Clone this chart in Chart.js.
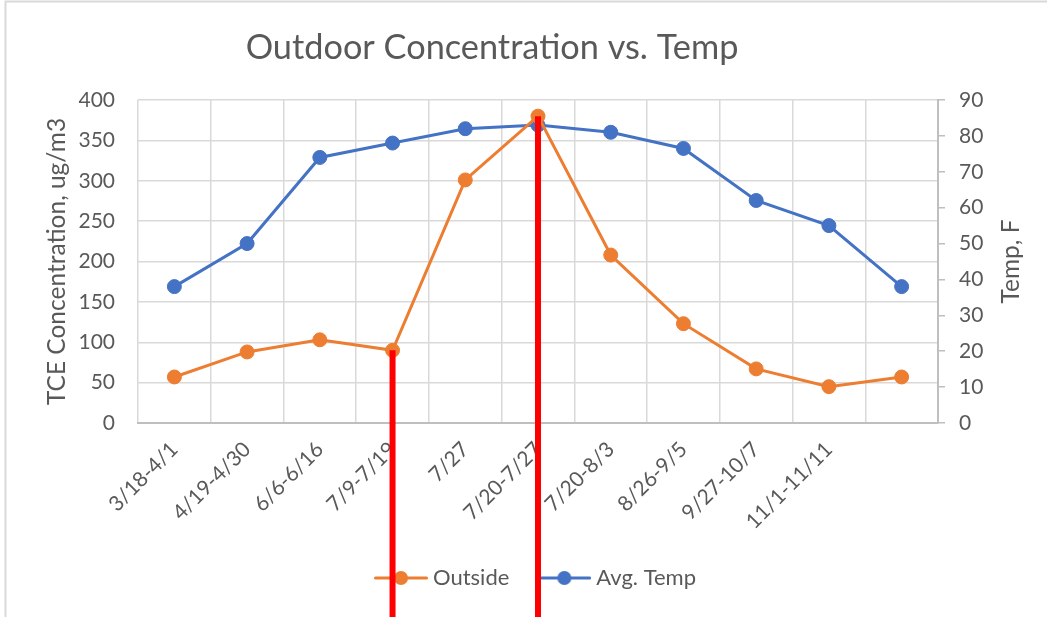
<!DOCTYPE html>
<html>
<head>
<meta charset="utf-8">
<script src="https://cdn.jsdelivr.net/npm/chart.js@4.4.0/dist/chart.umd.min.js"></script>
<style>
  html, body { margin: 0; padding: 0; background: #ffffff; }
  #wrap { width: 1047px; height: 617px; position: relative; }
</style>
</head>
<body>
<div id="wrap"><canvas id="c" width="1047" height="617"></canvas></div>
<script>
// ---- data ----
const categories = ['3/18-4/1', '4/19-4/30', '6/6-6/16', '7/9-7/19', '7/27', '7/20-7/27', '7/20-8/3', '8/26-9/5', '9/27-10/7', '11/1-11/11', ''];
const outside = [57, 88, 103, 90, 301, 380, 208, 123, 67, 45, 57];
const avgTemp = [38, 50, 74, 78, 82, 83, 81, 76.5, 62, 55, 38];
const leftTicks = [0, 50, 100, 150, 200, 250, 300, 350, 400];
const rightTicks = [0, 10, 20, 30, 40, 50, 60, 70, 80, 90];
const redLineCategories = ['7/9-7/19', '7/20-7/27'];
const chartTitle = 'Outdoor Concentration vs. Temp';
const rightAxisTitle = 'Temp, F';

const ORANGE = '#ED7D31';
const BLUE = '#4472C4';
const TEXT = '#595959';
const FONT = 'Lato, "Open Sans", sans-serif';

function legendImage(color) {
  const cv = document.createElement('canvas');
  cv.width = 54; cv.height = 16;
  const g = cv.getContext('2d');
  g.strokeStyle = color; g.lineWidth = 3; g.lineCap = 'round';
  g.beginPath(); g.moveTo(1.5, 8); g.lineTo(52.5, 8); g.stroke();
  g.fillStyle = color;
  g.beginPath(); g.arc(27, 8, 7, 0, Math.PI * 2); g.fill();
  return cv;
}

const frame = {
  id: 'frame',
  beforeDraw(chart) {
    const ctx = chart.ctx;
    ctx.save();
    ctx.strokeStyle = '#d9d9d9';
    ctx.lineWidth = 2;
    ctx.strokeRect(5.5, 1.5, 1200, 800);
    ctx.restore();
  }
};

const texts = {
  id: 'texts',
  afterDraw(chart) {
    const ctx = chart.ctx;
    const ca = chart.chartArea;
    ctx.save();
    ctx.fillStyle = TEXT;
    ctx.textAlign = 'center';
    ctx.textBaseline = 'middle';
    ctx.font = '400 34.3px ' + FONT;
    ctx.fillText(chartTitle, 492, 48);
    ctx.font = '400 24.5px ' + FONT;
    ctx.translate(1011, (ca.top + ca.bottom) / 2);
    ctx.rotate(-Math.PI / 2);
    ctx.fillText(rightAxisTitle, 0, 0);
    ctx.restore();
  }
};

const redLines = {
  id: 'redLines',
  afterDraw(chart) {
    const ctx = chart.ctx;
    const xs = chart.scales.x, ys = chart.scales.y;
    ctx.save();
    ctx.strokeStyle = '#FF0000';
    ctx.lineWidth = 6;
    redLineCategories.forEach(cat => {
      const i = categories.indexOf(cat);
      const px = xs.getPixelForValue(i);
      const py = ys.getPixelForValue(outside[i]);
      ctx.beginPath();
      ctx.moveTo(px, py);
      ctx.lineTo(px, chart.height);
      ctx.stroke();
    });
    ctx.restore();
  }
};

new Chart(document.getElementById('c'), {
  type: 'line',
  data: {
    labels: categories,
    datasets: [
      {
        label: 'Outside', data: outside, yAxisID: 'y',
        borderColor: ORANGE, backgroundColor: ORANGE, borderWidth: 3,
        pointRadius: 7, pointBorderWidth: 1, pointBorderColor: ORANGE, pointBackgroundColor: ORANGE,
        tension: 0
      },
      {
        label: 'Avg. Temp', data: avgTemp, yAxisID: 'y1',
        borderColor: BLUE, backgroundColor: BLUE, borderWidth: 3,
        pointRadius: 7, pointBorderWidth: 1, pointBorderColor: BLUE, pointBackgroundColor: BLUE,
        tension: 0
      }
    ]
  },
  options: {
    responsive: false,
    animation: false,
    events: [],
    layout: { padding: { top: 0, bottom: 18, left: 0, right: 0 } },
    plugins: {
      title: {
        display: true,
        text: chartTitle,
        color: 'rgba(0,0,0,0)',
        font: { family: FONT, size: 35, weight: '400', lineHeight: 1.2 },
        padding: { top: 26, bottom: 32 }
      },
      legend: {
        display: true,
        position: 'bottom',
        fullSize: false,
        labels: {
          color: TEXT,
          font: { family: FONT, size: 22 },
          usePointStyle: true,
          pointStyleWidth: 42,
          padding: 34,
          generateLabels(chart) {
            const items = Chart.defaults.plugins.legend.labels.generateLabels(chart);
            items.forEach((it, k) => { it.pointStyle = legendImage(k === 0 ? ORANGE : BLUE); });
            return items;
          }
        }
      },
      tooltip: { enabled: false }
    },
    scales: {
      x: {
        type: 'category',
        offset: true,
        grid: { offset: true, color: '#d9d9d9', lineWidth: 1.5, drawTicks: false },
        border: { display: true, color: '#bfbfbf', width: 2 },
        ticks: {
          autoSkip: false, minRotation: 45, maxRotation: 45,
          color: TEXT, font: { family: FONT, size: 21 }, padding: 14
        },
        afterFit(s) { s.height = 110; }
      },
      y: {
        position: 'left',
        min: 0, max: 400,
        afterBuildTicks(s) { s.ticks = leftTicks.map(v => ({ value: v })); },
        grid: { color: '#d9d9d9', lineWidth: 1.5, drawTicks: false },
        border: { display: false },
        ticks: { color: TEXT, font: { family: FONT, size: 21 }, padding: 23 },
        title: { display: true, text: 'TCE Concentration, ug/m3', color: TEXT, font: { family: FONT, size: 24.5 }, padding: { top: 42, bottom: 0 } },
        afterFit(s) { s.width = 138; }
      },
      y1: {
        position: 'right',
        min: 0, max: 90,
        afterBuildTicks(s) { s.ticks = rightTicks.map(v => ({ value: v })); },
        grid: { drawOnChartArea: false, drawTicks: true, tickLength: 7, color: '#bfbfbf', lineWidth: 1.5 },
        border: { display: true, color: '#bfbfbf', width: 2 },
        ticks: { color: TEXT, font: { family: FONT, size: 21 }, padding: 14 },
        afterFit(s) { s.width = 109; }
      }
    }
  },
  plugins: [frame, redLines, texts]
});
</script>
</body>
</html>
